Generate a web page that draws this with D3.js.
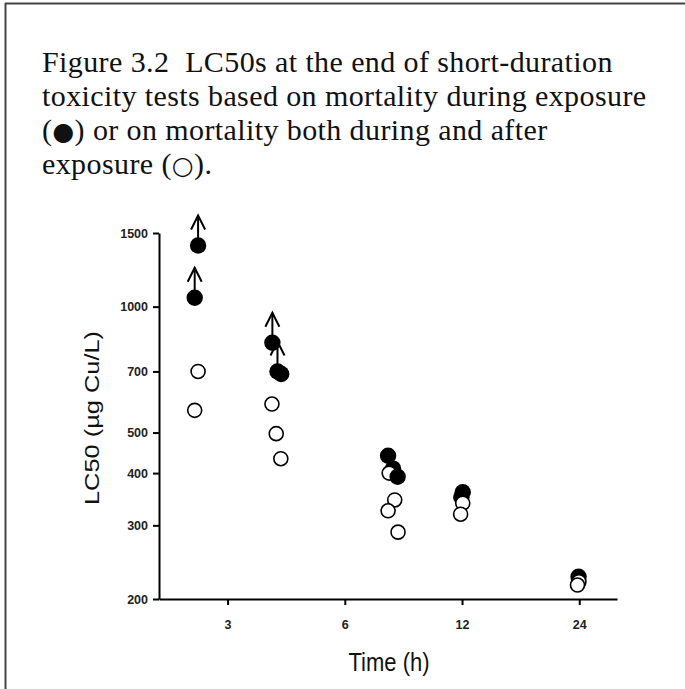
<!DOCTYPE html>
<html>
<head>
<meta charset="utf-8">
<script src="https://cdn.jsdelivr.net/npm/d3@7"></script>
<style>
  body { margin: 0; background: #fff; }
  svg { display: block; }
</style>
</head>
<body>
<svg width="685" height="689"></svg>
<script>
// Caption lines
const captionLines = [
  'Figure 3.2  LC50s at the end of short-duration',
  'toxicity tests based on mortality during exposure',
  '(\u25CF) or on mortality both during and after',
  'exposure (\u25CB).'
];

// Mortality during exposure (filled); greater = LC50 is a lower bound (arrow)
const duringTime = [2.52, 2.47, 3.91, 4.03, 4.12, 7.75, 7.98, 8.2, 12.05, 11.95, 23.9];
const duringLC50 = [1400, 1050, 820, 700, 690, 440, 410, 392, 360, 350, 226];
const duringGreater = [true, true, true, true, false, false, false, false, false, false, false];

// Mortality during and after exposure (open)
const afterTime = [2.52, 2.47, 3.9, 4.0, 4.11, 7.8, 8.06, 7.75, 8.22, 12.05, 11.9, 23.95, 23.75];
const afterLC50 = [700, 565, 585, 497, 433, 400, 345, 325, 289, 339, 319, 220, 216];

const xTicks = [3, 6, 12, 24];
const yTicks = [200, 300, 400, 500, 700, 1000, 1500];

const svg = d3.select('svg');

svg.append('rect').attr('width', 685).attr('height', 689).attr('fill', '#fff');

// Frame (top and left edges visible)
svg.append('line')
  .attr('x1', 5).attr('x2', 685).attr('y1', 3.5).attr('y2', 3.5)
  .attr('stroke', '#444').attr('stroke-width', 2);
svg.append('line')
  .attr('x1', 5.5).attr('x2', 5.5).attr('y1', 3).attr('y2', 689)
  .attr('stroke', '#444').attr('stroke-width', 2);

// Caption, with the symbol glyphs drawn a little larger
const caption = svg.append('g')
  .attr('font-family', '"Liberation Serif", "Times New Roman", serif')
  .attr('font-size', 30)
  .attr('letter-spacing', 0.4)
  .attr('fill', '#111');

caption.selectAll('text')
  .data(captionLines)
  .enter()
  .append('text')
  .attr('x', 42)
  .attr('y', (d, i) => 72 + i * 34)
  .style('white-space', 'pre')
  .each(function (line) {
    const t = d3.select(this);
    line.split(/([\u25CF\u25CB])/).forEach(part => {
      if (!part) return;
      const sym = /[\u25CF\u25CB]/.test(part);
      t.append('tspan')
        .attr('font-family', sym ? '"DejaVu Sans", sans-serif' : null)
        .attr('font-size', sym ? 25 : null)
        .text(part);
    });
  });

const plotLeft = 159, plotRight = 617, plotTop = 233, plotBottom = 599;

const x = d3.scaleLog().domain([2, 30]).range([plotLeft, plotRight]);
const y = d3.scaleLog().domain([200, 1500]).range([plotBottom, plotTop]);

const axisFont = '"Liberation Sans", Arial, sans-serif';

// X axis
const gx = svg.append('g')
  .attr('transform', `translate(0,${plotBottom})`)
  .call(d3.axisBottom(x).tickValues(xTicks).tickFormat(d3.format('d')).tickSize(6).tickSizeOuter(0));

// Y axis
const gy = svg.append('g')
  .attr('transform', `translate(${plotLeft},0)`)
  .call(d3.axisLeft(y).tickValues(yTicks).tickFormat(d3.format('d')).tickSize(6).tickSizeOuter(0));

[gx, gy].forEach(g => {
  g.select('.domain').attr('stroke', '#000').attr('stroke-width', 2);
  g.selectAll('.tick line').attr('stroke', '#000').attr('stroke-width', 2);
  g.selectAll('.tick text')
    .attr('font-family', axisFont)
    .attr('font-weight', 'bold')
    .attr('fill', '#222');
});
gx.selectAll('.tick text').attr('font-size', 12.5).attr('y', 21);
gy.selectAll('.tick text').attr('font-size', 12.5).attr('x', -11);

// Axis titles
svg.append('text')
  .attr('transform', 'translate(389,671) scale(1,1.15)')
  .attr('text-anchor', 'middle')
  .attr('font-family', axisFont)
  .attr('font-size', 22)
  .attr('fill', '#111')
  .text('Time (h)');

svg.append('text')
  .attr('transform', `translate(99,418) rotate(-90)`)
  .attr('text-anchor', 'middle')
  .attr('font-family', axisFont)
  .attr('font-size', 21)
  .attr('textLength', 174)
  .attr('lengthAdjust', 'spacingAndGlyphs')
  .attr('fill', '#111')
  .text('LC50 (\u00B5g Cu/L)');

// Build point list; drawn from high to low LC50 so lower points sit on top
const points = duringTime.map((t, i) => ({ t, v: duringLC50[i], filled: true, greater: duringGreater[i] }))
  .concat(afterTime.map((t, i) => ({ t, v: afterLC50[i], filled: false, greater: false })))
  .sort((a, b) => b.v - a.v);

// Arrows for "greater than" values
const arrows = svg.append('g')
  .attr('stroke', '#000')
  .attr('stroke-width', 2)
  .attr('fill', 'none');

const arrowPts = points.filter(d => d.greater);
arrows.selectAll('line')
  .data(arrowPts)
  .enter()
  .append('line')
  .attr('x1', d => x(d.t))
  .attr('x2', d => x(d.t))
  .attr('y1', d => y(d.v))
  .attr('y2', d => y(d.v) - 30);
arrows.selectAll('path')
  .data(arrowPts)
  .enter()
  .append('path')
  .attr('d', d => {
    const px = x(d.t), py = y(d.v) - 30;
    return `M${px - 7},${py + 14}L${px},${py}L${px + 7},${py + 14}`;
  });

// Points
svg.append('g')
  .selectAll('circle')
  .data(points)
  .enter()
  .append('circle')
  .attr('cx', d => x(d.t))
  .attr('cy', d => y(d.v))
  .attr('r', d => (d.filled ? 8.2 : 7))
  .attr('fill', d => (d.filled ? '#000' : '#fff'))
  .attr('stroke', '#000')
  .attr('stroke-width', d => (d.filled ? 0 : 1.6));
</script>
</body>
</html>
